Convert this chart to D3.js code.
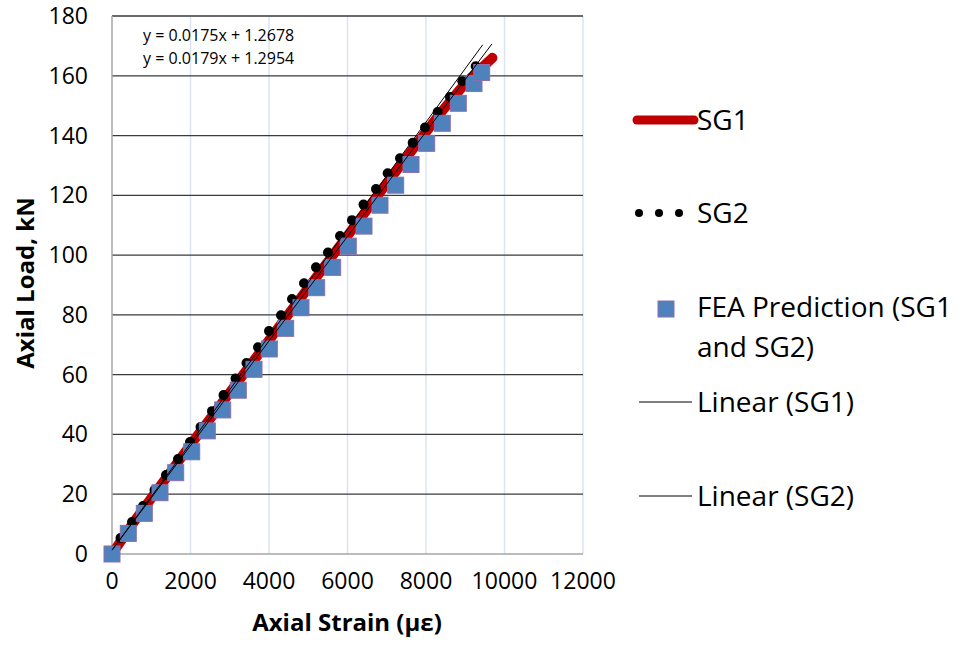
<!DOCTYPE html>
<html>
<head>
<meta charset="utf-8">
<script src="https://cdnjs.cloudflare.com/ajax/libs/d3/7.8.5/d3.min.js"></script>
<style>
  body { margin: 0; background: #fff; }
  text { font-family: "Open Sans", sans-serif; }
</style>
</head>
<body>
<div id="chart"></div>
<script>
// strain (µε), load (kN)
var sg1_strain = [0, 600, 1300, 2000, 2800, 3600, 4400, 5200, 6000, 6800, 7600, 8400, 9000, 9692];
var sg1_load   = [0, 11.5, 24, 36.5, 50.5, 64.5, 78.5, 92.5, 106.5, 120.5, 134.3, 148, 157.5, 166];

var sg2_strain = [0, 217, 510, 790, 1083, 1376, 1682, 1987, 2255, 2548, 2841, 3147, 3427, 3720, 4000, 4306,
                  4586, 4892, 5197, 5503, 5809, 6115, 6408, 6726, 7024, 7338, 7661, 7975, 8298, 8611, 8925, 9266];
var sg2_load   = [0, 5.35, 10.7, 16.05, 21.4, 26.4, 31.8, 37.5, 42.5, 47.8, 53.2, 58.7, 63.9, 69.2, 74.6, 79.9,
                  85.3, 90.6, 95.9, 100.9, 106.4, 111.7, 116.9, 122.1, 127.4, 132.4, 137.6, 142.7, 147.9, 152.9, 158.2, 163.2];

var fea_strain = [0, 415, 823, 1223, 1623, 2031, 2428, 2820, 3218, 3618, 4008, 4425, 4815,
                  5215, 5622, 6020, 6420, 6828, 7228, 7618, 8018, 8415, 8823, 9223, 9419];
var fea_load   = [0, 6.9, 13.6, 20.5, 27.2, 34.2, 41.2, 48.2, 54.8, 61.8, 68.6, 75.5, 82.4,
                  89.1, 95.9, 103.0, 109.7, 116.7, 123.4, 130.3, 137.4, 144.1, 150.8, 157.4, 161.1];

// trendlines (slope, intercept, last strain)
var trend_names = ["Linear (SG1)", "Linear (SG2)"];
var trend_slope = [0.0175, 0.0179];
var trend_icept = [1.2678, 1.2954];
var trend_end   = [9680, 9445];
var equations   = ["y = 0.0175x + 1.2678", "y = 0.0179x + 1.2954"];

var x_ticks = [0, 2000, 4000, 6000, 8000, 10000, 12000];
var y_ticks = [0, 20, 40, 60, 80, 100, 120, 140, 160, 180];

var width = 969, height = 648;
var svg = d3.select("#chart").append("svg")
  .attr("width", width).attr("height", height);

var x = d3.scaleLinear().domain([0, 12000]).range([112, 583]);
var y = d3.scaleLinear().domain([0, 180]).range([554, 16]);

// vertical gridlines (light)
svg.selectAll(".vgrid").data(x_ticks.slice(1))
  .enter().append("line")
    .attr("x1", function(d){ return x(d); }).attr("x2", function(d){ return x(d); })
    .attr("y1", y(0)).attr("y2", y(180))
    .style("stroke", "#dce4f1").style("stroke-width", 1.5);

// horizontal gridlines (dark)
svg.selectAll(".hgrid").data(y_ticks.slice(1))
  .enter().append("line")
    .attr("x1", x(0)).attr("x2", x(12000))
    .attr("y1", function(d){ return y(d); }).attr("y2", function(d){ return y(d); })
    .style("stroke", "#3a3a3a").style("stroke-width", 1.3);

// axis lines
svg.append("line").attr("x1", x(0)).attr("x2", x(12000)).attr("y1", y(0)).attr("y2", y(0))
  .style("stroke", "#a6a6a6").style("stroke-width", 1.5);
svg.append("line").attr("x1", x(0)).attr("x2", x(0)).attr("y1", y(0)).attr("y2", y(180))
  .style("stroke", "#a6a6a6").style("stroke-width", 1.5);

// tick labels
svg.selectAll(".xlab").data(x_ticks)
  .enter().append("text")
    .attr("x", function(d){ return x(d); }).attr("y", 589)
    .attr("text-anchor", "middle").attr("font-size", "23px").attr("fill", "#000")
    .text(function(d){ return d; });

svg.selectAll(".ylab").data(y_ticks)
  .enter().append("text")
    .attr("x", 88).attr("y", function(d){ return y(d) + 8; })
    .attr("text-anchor", "end").attr("font-size", "23px").attr("fill", "#000")
    .text(function(d){ return d; });

// axis titles
svg.append("text")
  .attr("x", 347).attr("y", 631)
  .attr("text-anchor", "middle").attr("font-size", "24px").attr("font-weight", "bold")
  .text("Axial Strain (µε)");
svg.append("text")
  .attr("transform", "translate(34,283) rotate(-90)")
  .attr("text-anchor", "middle").attr("font-size", "24px").attr("font-weight", "bold")
  .text("Axial Load, kN");

// SG1 thick red line
var sg1 = sg1_strain.map(function(d, i){ return [d, sg1_load[i]]; });
svg.append("path")
  .datum(sg1)
  .attr("d", d3.line().x(function(d){ return x(d[0]); }).y(function(d){ return y(d[1]); }))
  .style("fill", "none").style("stroke", "#c00000").style("stroke-width", 10)
  .style("stroke-linecap", "round").style("stroke-linejoin", "round");

// SG2 dots
svg.selectAll(".sg2").data(sg2_strain)
  .enter().append("circle")
    .attr("cx", function(d){ return x(d); })
    .attr("cy", function(d, i){ return y(sg2_load[i]); })
    .attr("r", 5).style("fill", "#000");

// FEA squares
svg.selectAll(".fea").data(fea_strain)
  .enter().append("rect")
    .attr("x", function(d){ return x(d) - 8; })
    .attr("y", function(d, i){ return y(fea_load[i]) - 8; })
    .attr("width", 16).attr("height", 16)
    .style("fill", "#4f81bd").style("stroke", "#8a6fb0").style("stroke-width", 1);

// trendlines
svg.selectAll(".trend").data(trend_slope)
  .enter().append("line")
    .attr("x1", x(0)).attr("y1", function(d, i){ return y(trend_icept[i]); })
    .attr("x2", function(d, i){ return x(trend_end[i]); })
    .attr("y2", function(d, i){ return y(d * trend_end[i] + trend_icept[i]); })
    .style("stroke", "#000").style("stroke-width", 1);

// equations
svg.selectAll(".eq").data(equations)
  .enter().append("text")
    .attr("x", 143).attr("y", function(d, i){ return 41 + i * 23; })
    .attr("font-size", "16px").attr("fill", "#000")
    .text(function(d){ return d; });

// legend
var lx = 697;
svg.append("line").attr("x1", 637).attr("x2", 694).attr("y1", 120).attr("y2", 120)
  .style("stroke", "#c00000").style("stroke-width", 9).style("stroke-linecap", "round");
svg.append("text").attr("x", lx).attr("y", 130).attr("font-size", "28px").text("SG1");

svg.selectAll(".ldot").data([639, 659, 679])
  .enter().append("circle")
    .attr("cx", function(d){ return d; }).attr("cy", 213).attr("r", 4).style("fill", "#000");
svg.append("text").attr("x", lx).attr("y", 223).attr("font-size", "28px").text("SG2");

svg.append("rect").attr("x", 658).attr("y", 301).attr("width", 16).attr("height", 16)
  .style("fill", "#4f81bd").style("stroke", "#8a6fb0").style("stroke-width", 1);
svg.append("text").attr("x", lx).attr("y", 317).attr("font-size", "28px").text("FEA Prediction (SG1");
svg.append("text").attr("x", lx).attr("y", 357).attr("font-size", "28px").text("and SG2)");

svg.selectAll(".ltrend").data(trend_names)
  .enter().append("line")
    .attr("x1", 639).attr("x2", 692)
    .attr("y1", function(d, i){ return 402 + i * 94; }).attr("y2", function(d, i){ return 402 + i * 94; })
    .style("stroke", "#000").style("stroke-width", 1);
svg.selectAll(".ltext").data(trend_names)
  .enter().append("text")
    .attr("x", lx).attr("y", function(d, i){ return 412 + i * 94; })
    .attr("font-size", "28px").text(function(d){ return d; });
</script>
</body>
</html>
